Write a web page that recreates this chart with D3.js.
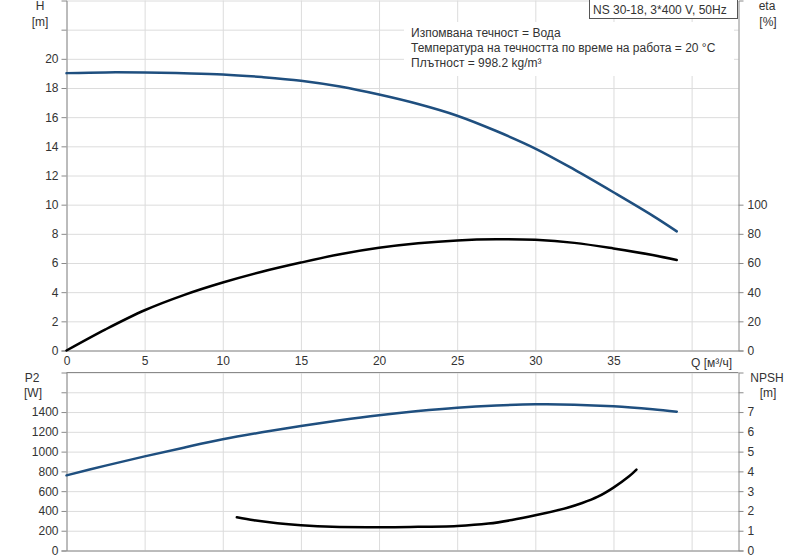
<!DOCTYPE html>
<html>
<head>
    <meta charset="utf-8">
    <title>NS 30-18 pump curves</title>
    <script src="https://d3js.org/d3.v7.min.js"></script>
    <style>
        body { margin: 0; background: #fff; }
        svg { font-family: Arial, "Liberation Sans", sans-serif; }
        .grid line { stroke: #dcdcdc; stroke-width: 1; }
        .grid path { display: none; }
        .axis path, .axis line { stroke: #8a8a8a; }
        .axis text { fill: #333; font-size: 12px; }
        .lbl { fill: #333; font-size: 12px; }
    </style>
</head>
<body>
<svg id="chart" width="800" height="560"></svg>
<script>
// flow points (m3/h) for the H, eta and P2 curves
const qMain = [0, 2.5, 5, 7.5, 10, 12.5, 15, 17.5, 20, 22.5, 25, 27.5, 30, 32.5, 35, 37.5, 39.05];
const headM = [19.02, 19.07, 19.06, 19.01, 18.93, 18.75, 18.5, 18.1, 17.55, 16.9, 16.1, 15.05, 13.85, 12.4, 10.85, 9.25, 8.17];
const etaPct = [0, 14.5, 27.6, 38, 46.6, 54, 60.3, 66, 70.4, 73.5, 75.5, 76.3, 75.9, 73.8, 70, 65.5, 62];
const powerW = [760, 858, 952, 1040, 1124, 1195, 1259, 1316, 1367, 1410, 1444, 1466, 1478, 1475, 1458, 1428, 1404];

// NPSH curve has its own flow range
const qNpsh = [10.9, 12, 13.5, 15, 17, 20, 22, 25, 27, 28.5, 30, 32, 33, 34, 35, 36, 36.47];
const npshM = [1.68, 1.53, 1.38, 1.28, 1.2, 1.18, 1.19, 1.24, 1.36, 1.54, 1.78, 2.15, 2.4, 2.72, 3.18, 3.75, 4.09];

const qTicks = [0, 5, 10, 15, 20, 25, 30, 35, 40];
const hTicks = [0, 2, 4, 6, 8, 10, 12, 14, 16, 18, 20, 22];
const etaTicks = [0, 20, 40, 60, 80, 100];
const pTicks = [0, 200, 400, 600, 800, 1000, 1200, 1400, 1600];
const npshTicks = [0, 1, 2, 3, 4, 5, 6, 7, 8];

const infoLines = [
    "Изпомвана течност = Вода",
    "Температура на течността по време на работа = 20 °C",
    "Плътност = 998.2 kg/m³"
];
const pumpName = "NS 30-18, 3*400 V, 50Hz";

const svg = d3.select("#chart");
const left = 66.5, right = 738.5;
const top1 = 0.5, bot1 = 350.5;
const top2 = 372.5, bot2 = 550.5;

const x = d3.scaleLinear().domain([0, 43]).range([left, right]);
const yH = d3.scaleLinear().domain([0, 24]).range([bot1, top1]);
const yEta = d3.scaleLinear().domain([0, 240]).range([bot1, top1]);
const yP = d3.scaleLinear().domain([0, 1800]).range([bot2, top2]);
const yN = d3.scaleLinear().domain([0, 9]).range([bot2, top2]);

// grid lines for one panel
function drawGrid(yScale, yVals, yTop, yBot) {
    svg.append("g").attr("class", "grid")
        .attr("transform", `translate(0,${yBot})`)
        .call(d3.axisBottom(x).tickValues(qTicks).tickSize(-(yBot - yTop)).tickFormat(""));
    svg.append("g").attr("class", "grid")
        .attr("transform", `translate(${left},0)`)
        .call(d3.axisLeft(yScale).tickValues(yVals).tickSize(-(right - left)).tickFormat(""));
}
drawGrid(yH, hTicks.concat([24]), top1, bot1);
drawGrid(yP, pTicks.concat([1800]), top2, bot2);

// white box behind the fluid info
svg.append("rect").attr("x", 404).attr("y", 22).attr("width", 330).attr("height", 54).attr("fill", "#fff");
infoLines.forEach((t, i) => {
    svg.append("text").attr("class", "lbl")
        .attr("x", 411).attr("y", 37 + i * 15.2).text(t);
});

// pump name box
svg.append("rect").attr("x", 589.5).attr("y", -1).attr("width", 148).attr("height", 19.5)
    .attr("fill", "#fff").attr("stroke", "#555");
svg.append("text").attr("class", "lbl").attr("x", 593).attr("y", 13.5).text(pumpName);

// axes, top panel
svg.append("g").attr("class", "axis")
    .attr("transform", `translate(${left},0)`)
    .call(d3.axisLeft(yH).tickValues(hTicks).tickSizeOuter(0).tickSize(5)
        .tickFormat(d => d > 20 ? "" : d));
svg.append("g").attr("class", "axis")
    .attr("transform", `translate(${right},0)`)
    .call(d3.axisRight(yEta).tickValues(etaTicks).tickSizeOuter(0).tickSize(5).tickPadding(4));
svg.append("g").attr("class", "axis")
    .attr("transform", `translate(0,${bot1})`)
    .call(d3.axisBottom(x).tickValues(qTicks).tickSize(0).tickSizeOuter(0).tickPadding(6)
        .tickFormat(d => d === 40 ? "" : d));
svg.append("text").attr("class", "lbl").attr("x", 691).attr("y", 366.5)
    .text("Q [м³/ч]");

// axes, bottom panel
svg.append("g").attr("class", "axis")
    .attr("transform", `translate(${left},0)`)
    .call(d3.axisLeft(yP).tickValues(pTicks).tickSizeOuter(0).tickSize(5)
        .tickFormat(d => d > 1400 ? "" : d));
svg.append("g").attr("class", "axis")
    .attr("transform", `translate(${right},0)`)
    .call(d3.axisRight(yN).tickValues(npshTicks).tickSizeOuter(0).tickSize(5).tickPadding(4)
        .tickFormat(d => d > 7 ? "" : d));
svg.append("g").attr("class", "axis")
    .attr("transform", `translate(0,${bot2})`)
    .call(d3.axisBottom(x).tickValues([]).tickSizeOuter(0));
svg.append("line").attr("x1", left).attr("x2", right).attr("y1", top2).attr("y2", top2)
    .attr("stroke", "#8a8a8a");

// unit labels
const units = [
    ["H", 40, 10], ["[m]", 40, 25.5],
    ["eta", 767, 10], ["[%]", 768, 25.5],
    ["P2", 32, 382], ["[W]", 33, 397],
    ["NPSH", 767, 382], ["[m]", 768, 397]
];
units.forEach(u => {
    svg.append("text").attr("class", "lbl").attr("text-anchor", "middle")
        .attr("x", u[1]).attr("y", u[2]).text(u[0]);
});

// curves
function curve(qs, vs, yScale, color) {
    const line = d3.line()
        .x((d, i) => x(qs[i]))
        .y(d => yScale(d))
        .curve(d3.curveCatmullRom.alpha(0.5));
    svg.append("path").datum(vs)
        .attr("d", line)
        .attr("fill", "none")
        .attr("stroke", color)
        .attr("stroke-width", 2.5)
        .attr("stroke-linecap", "round");
}
curve(qMain, headM, yH, "#1f4f7f");
curve(qMain, etaPct, yEta, "#000");
curve(qMain, powerW, yP, "#1f4f7f");
curve(qNpsh, npshM, yN, "#000");
</script>
</body>
</html>
